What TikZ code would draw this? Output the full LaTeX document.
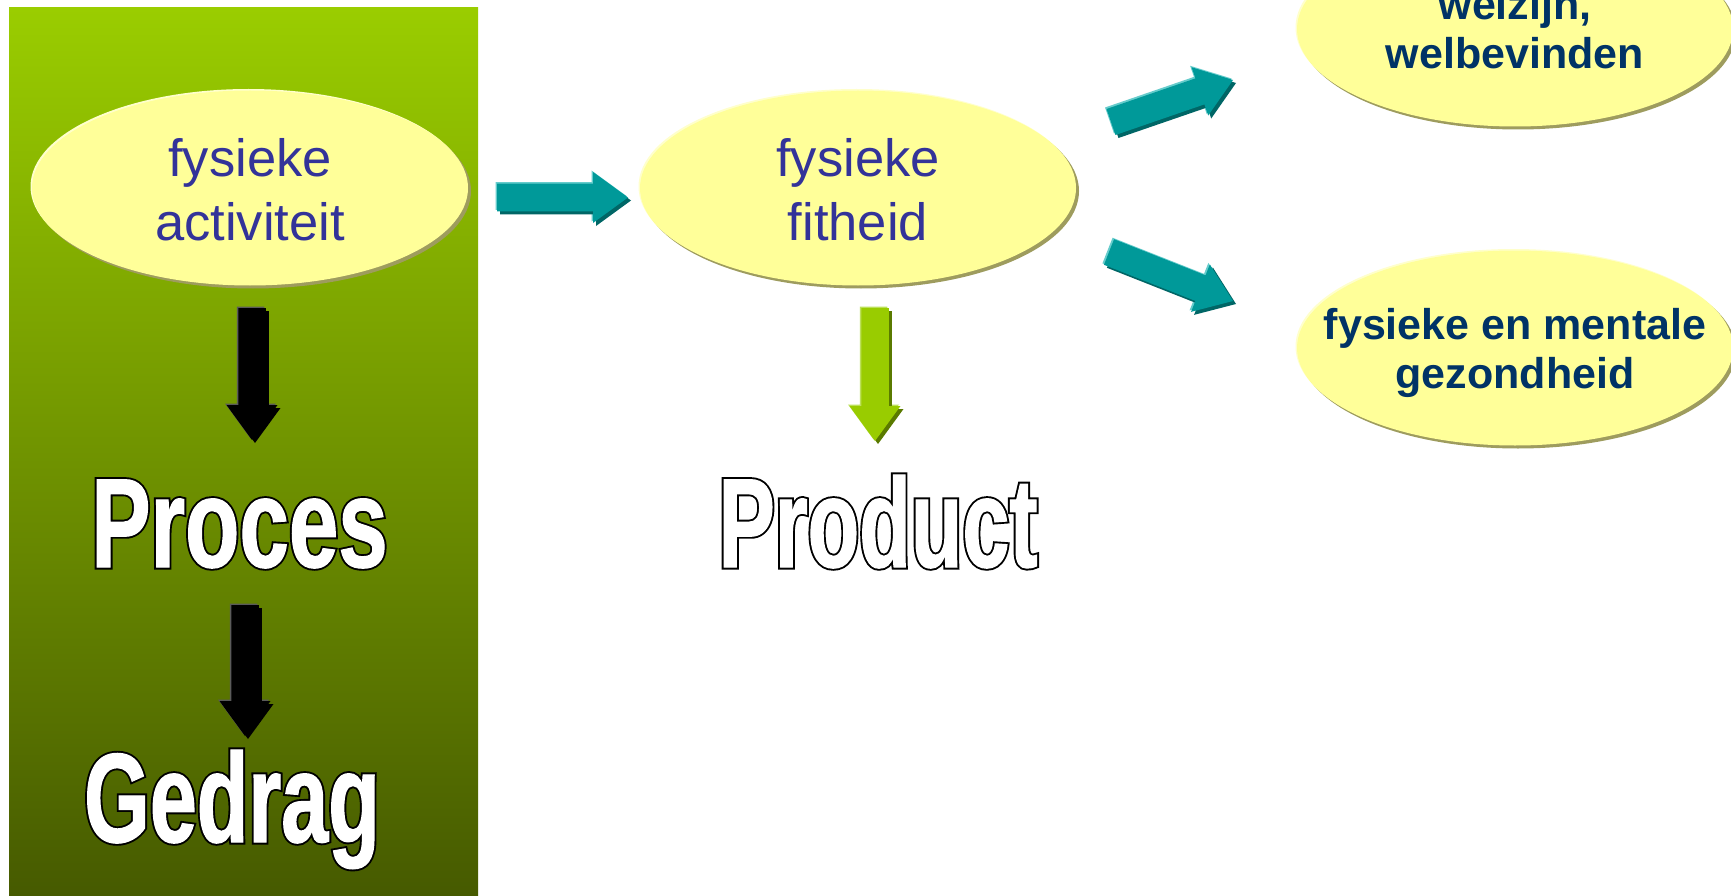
\documentclass[tikz,border=0pt]{standalone}
\usepackage{fontspec}
\setmainfont{Liberation Sans}
\newfontfamily\narrowfont{Liberation Sans}[FakeStretch=0.665]
\newfontfamily\narrowfontwide{Liberation Sans}[FakeStretch=0.70]
\usetikzlibrary{shapes.geometric,shadows,calc}

\definecolor{panelTop}{HTML}{9ACD00}
\definecolor{panelMid}{HTML}{769C00}
\definecolor{panelBot}{HTML}{465A00}
\definecolor{bubbleFill}{HTML}{FFFF99}
\definecolor{bubbleShade}{HTML}{9E9C5E}
\definecolor{bubbleLight}{HTML}{FFFFCC}
\definecolor{inkBlue}{HTML}{333399}
\definecolor{inkNavy}{HTML}{003366}
\definecolor{arrowTeal}{HTML}{009999}
\definecolor{arrowTealLight}{HTML}{66CCCC}
\definecolor{arrowTealDark}{HTML}{006666}
\definecolor{arrowLime}{HTML}{99CC00}
\definecolor{arrowLimeLight}{HTML}{BCE05A}
\definecolor{arrowLimeDark}{HTML}{5A7A00}
\definecolor{arrowGrey}{HTML}{5A5A5A}

% heavy white letters with a black outline: a wide black stroke underneath,
% then the same letters filled and stroked in white
\newcommand\outlinedword[1]{%
  \rlap{\special{pdf:literal direct 2 Tr 5 w 0 G 0 g}#1}%
  \special{pdf:literal direct 2 Tr 1.2 w 1 G 1 g}#1\special{pdf:literal direct 0 Tr}}

% one layer of a block arrow from tail #2 to tip #3 (head base is (hb))
\newcommand\blockarrowlayer[3]{%
  \fill[#1] ($(#2)!13.75pt!90:(#3)$) -- ($(hb)!13.75pt!90:(#3)$) -- ($(hb)!25.5pt!90:(#3)$)
    -- (#3) -- ($(hb)!25.5pt!-90:(#3)$) -- ($(hb)!13.75pt!-90:(#3)$) -- ($(#2)!13.75pt!-90:(#3)$) -- cycle;}
% block arrow with a light edge at the upper left and a dark edge at the lower right
\newcommand\blockarrow[5]{%
  \path ($(#2)!35pt!(#1)$) coordinate (hb);
  \begin{scope}[transform canvas={shift={(-1.5pt,1.5pt)}}]\blockarrowlayer{#4}{#1}{#2}\end{scope}
  \begin{scope}[transform canvas={shift={(3pt,-3pt)}}]\blockarrowlayer{#5}{#1}{#2}\end{scope}
  \blockarrowlayer{#3}{#1}{#2}}

\tikzset{
  bubble/.style={ellipse, fill=bubbleFill, minimum width=436pt, minimum height=195pt, inner sep=0pt,
    copy shadow={shadow xshift=-1.5pt, shadow yshift=1.5pt, fill=bubbleLight, draw=none},
    drop shadow={shadow xshift=3pt, shadow yshift=-3pt, fill=bubbleShade, opacity=1}},
  plainline/.style={font=\fontsize{52.5}{63}\selectfont, text=inkBlue, anchor=base, inner sep=0pt},
  boldline/.style={font=\fontsize{43}{49}\selectfont\bfseries, text=inkNavy, anchor=base, inner sep=0pt},
  bigword/.style={font=\narrowfont\bfseries\fontsize{127}{127}\selectfont, text=white, anchor=base, inner sep=0pt}
}

\begin{document}
\begin{tikzpicture}[x=1pt, y=-1pt]
\useasboundingbox (0,0) rectangle (1731,896);
\fill[white] (0,0) rectangle (1731,896);

% green panel on the left
\shade[top color=panelTop, middle color=panelMid, bottom color=panelBot] (9,8) rectangle (478,897);

% ellipses
\node[bubble] (act) at (250,188) {};
\node[bubble] (fit) at (858,188) {};
\node[bubble] (well) at (1515,29) {};
\node[bubble] (health) at (1515,348) {};

\node[plainline] (act1) at ($(act)+(0,-11)$) {fysieke};
\node[plainline] (act2) at ($(act)+(0,52)$) {activiteit};
\node[plainline] (fit1) at ($(fit)+(0,-11)$) {fysieke};
\node[plainline] (fit2) at ($(fit)+(0,52)$) {fitheid};
\node[boldline] (well1) at ($(well)+(0,-9)$) {welzijn,};
\node[boldline] (well2) at ($(well)+(0,40)$) {welbevinden};
\node[boldline] (health1) at ($(health)+(0,-9)$) {fysieke en mentale};
\node[boldline] (health2) at ($(health)+(0,40)$) {gezondheid};

% outlined words
\node[bigword, font=\narrowfontwide\bfseries\fontsize{127}{127}\selectfont] (proces) at (239.5,567) {\outlinedword{Proces}};
\node[bigword] (gedrag) at (232,842) {\outlinedword{Gedrag}};
\node[bigword] (product) at (878,567) {\outlinedword{Product}};

% arrow ends
\coordinate (t1) at (497,197.5);   \coordinate (h1) at (628,197.5);
\coordinate (t2) at (1111,122);    \coordinate (h2) at (1233,80);
\coordinate (t3) at (1109,252);    \coordinate (h3) at (1233,301);
\coordinate (t4) at (252,308);     \coordinate (h4) at (252,440);
\coordinate (t5) at (245,605);     \coordinate (h5) at (245,736);
\coordinate (t6) at (875,308);     \coordinate (h6) at (875,441);

\blockarrow{t1}{h1}{arrowTeal}{arrowTealLight}{arrowTealDark}
\blockarrow{t2}{h2}{arrowTeal}{arrowTealLight}{arrowTealDark}
\blockarrow{t3}{h3}{arrowTeal}{arrowTealLight}{arrowTealDark}
\blockarrow{t4}{h4}{black}{arrowGrey}{black}
\blockarrow{t5}{h5}{black}{arrowGrey}{black}
\blockarrow{t6}{h6}{arrowLime}{arrowLimeLight}{arrowLimeDark}
\end{tikzpicture}
\end{document}
